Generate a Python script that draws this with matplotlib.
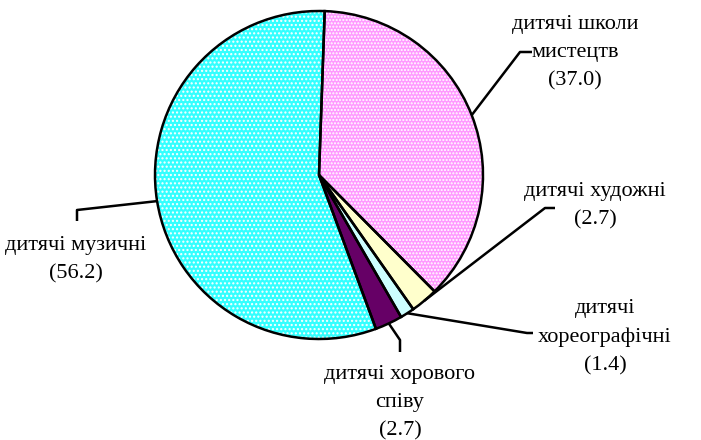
import numpy as np
import matplotlib.pyplot as plt
from matplotlib.patches import Wedge

# shares of children's art schools by type, %
labels = ['дитячі школи\nмистецтв', 'дитячі художні', 'дитячі\nхореографічні',
          'дитячі хорового\nспіву', 'дитячі музичні']
values = [37.0, 2.7, 1.4, 2.7, 56.2]
colors = ['#FF99FF', '#FFFFCC', '#CCFFFF', '#660066', '#33FFFF']
hatches = ['.....', None, None, None, '....']

# text position (pixels), elbow point, end of short horizontal/vertical stub
text_pos = [(575, 53), (595, 206), (605, 337), (400, 403), (76, 260)]
elbows = [((520, 52), (532, 52)), ((545, 208), (555, 208)),
          ((527, 333), (533, 333)), ((400, 340), (400, 352)),
          ((77, 210), (77, 221))]

W, H = 701, 440
cx, cy, R = 319, 175, 164

fig = plt.figure(figsize=(W / 100, H / 100), dpi=100)
ax = fig.add_axes([(cx - R) / W, (H - cy - R) / H, 2 * R / W, 2 * R / H])

wedges, _ = ax.pie(values, startangle=88, counterclock=False, colors=colors,
                   wedgeprops=dict(linewidth=0))
for w, h in zip(wedges, hatches):
    # white dotted fill pattern on the two big slices
    if h:
        ax.add_patch(Wedge(w.center, w.r, w.theta1, w.theta2, fill=False,
                           edgecolor='white', hatch=h, linewidth=0))
    # black outline on top
    ax.add_patch(Wedge(w.center, w.r, w.theta1, w.theta2, fill=False,
                       edgecolor='black', linewidth=1.8, zorder=3,
                       clip_on=False))
ax.set_xlim(-1, 1)
ax.set_ylim(-1, 1)
ax.axis('off')


def to_data(p):
    return ((p[0] - cx) / R, (cy - p[1]) / R)


font = dict(family='Liberation Serif', size=16)
for w, lab, v, tp, (e1, e2) in zip(wedges, labels, values, text_pos, elbows):
    mid = np.deg2rad((w.theta1 + w.theta2) / 2)
    start = (np.cos(mid), np.sin(mid))
    p1, p2 = to_data(e1), to_data(e2)
    ax.plot([start[0], p1[0], p2[0]], [start[1], p1[1], p2[1]],
            color='black', lw=1.8, clip_on=False, solid_capstyle='butt',
            zorder=4)
    t = to_data(tp)
    ax.text(t[0], t[1], '%s\n(%.1f)' % (lab, v), ha='center', va='center',
            linespacing=1.65, clip_on=False, **font)

fig.savefig('out.png', dpi=100)
